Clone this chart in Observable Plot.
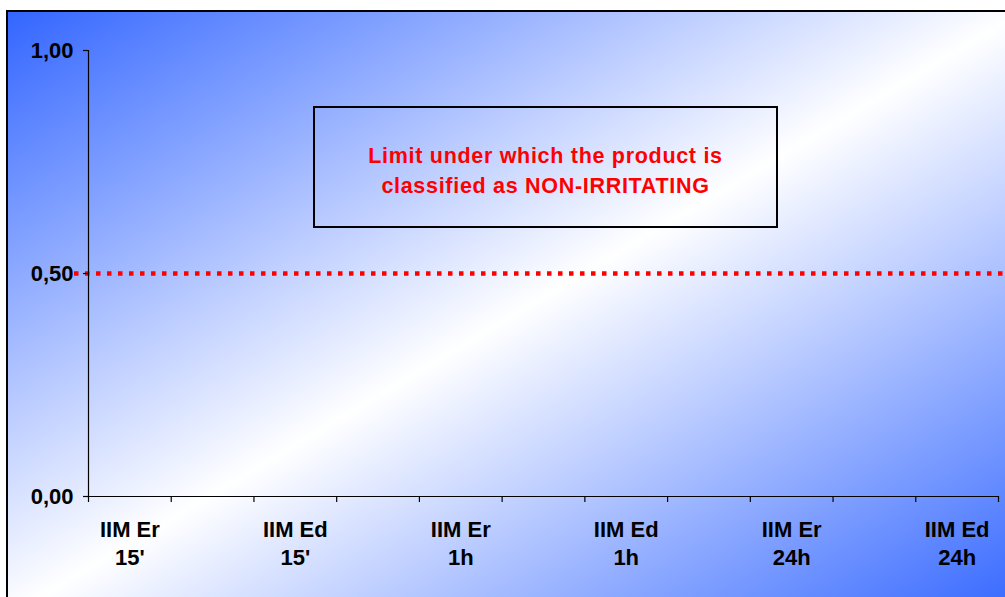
<!DOCTYPE html>
<html>
<head>
<meta charset="utf-8">
<script src="https://cdn.jsdelivr.net/npm/d3@7"></script>
<script src="https://cdn.jsdelivr.net/npm/@observablehq/plot@0.6"></script>
<style>
  html, body { margin: 0; padding: 0; width: 1005px; height: 597px; overflow: hidden; background: #fff; }
  #chart { position: relative; width: 1005px; height: 597px; font-family: "Liberation Sans", Arial, sans-serif; }
  #area {
    position: absolute; left: 6px; top: 10px; width: 1014px; height: 604px;
    border: 2px solid #000;
    background: linear-gradient(to bottom right, #3366ff 0%, #ffffff 50%, #3366ff 100%);
  }
  #plot { position: absolute; left: 0; top: 0; }
  #note {
    position: absolute; left: 313px; top: 106px; width: 461px; height: 110px;
    border: 2px solid #000; padding-top: 8px;
    display: flex; align-items: center; justify-content: center; text-align: center;
    color: #ff0000; font-weight: bold; font-size: 21.5px; line-height: 30px; letter-spacing: 0.7px;
  }
</style>
</head>
<body>
<div id="chart">
  <div id="area"></div>
  <div id="plot"></div>
  <div id="note">Limit under which the product is<br>classified as NON-IRRITATING</div>
</div>
<script>
// Test columns (blank spacer columns between them) and their irritation indices
const categories = ["IIM Er\n15'", "", "IIM Ed\n15'", "", "IIM Er\n1h", "", "IIM Ed\n1h", "", "IIM Er\n24h", "", "IIM Ed\n24h"];
const scores = [0, 0, 0, 0, 0, 0, 0, 0, 0, 0, 0];
// Threshold below which the product counts as non-irritating
const limit = 0.5;
const yTicks = [0, 0.5, 1];

const rows = categories.map((label, i) => ({i, label, score: scores[i]}));
const labelled = rows.filter(d => d.label !== "");
const fmt = v => d3.format(".2f")(v).replace(".", ",");

const chart = Plot.plot({
  width: 1005,
  height: 597,
  marginLeft: 88,
  marginRight: 7,
  marginTop: 50,
  marginBottom: 101,
  style: {background: "transparent", fontFamily: "'Liberation Sans', Arial, sans-serif", color: "#000"},
  x: {domain: [0, categories.length]},
  y: {domain: [0, 1]},
  marks: [
    Plot.rectY(rows, {x1: d => d.i, x2: d => d.i + 1, y: "score", fill: "#993366", insetLeft: 20, insetRight: 20}),
    Plot.ruleY([limit], {stroke: "#ff0000", strokeWidth: 4.5, strokeDasharray: "4.5,6.5", insetLeft: -14, insetRight: -5}),
    Plot.ruleX([0], {stroke: "#000", strokeWidth: 1.2}),
    Plot.ruleY([0], {stroke: "#000", strokeWidth: 1.2}),
    Plot.axisY({ticks: yTicks, tickFormat: fmt, tickSize: 5, tickPadding: 10, fontSize: 22, fontWeight: "bold", label: null, stroke: "#000", strokeWidth: 1.2}),
    // band boundaries carry the tick marks
    Plot.axisX({ticks: d3.range(categories.length + 1), tickFormat: () => "", tickSize: 6, label: null, stroke: "#000", strokeWidth: 1.2}),
    // labels sit in the middle of each labelled column
    Plot.axisX({ticks: labelled.map(d => d.i + 0.5), tickFormat: v => categories[Math.floor(v)], tickSize: 0, tickPadding: 20, fontSize: 22, fontWeight: "bold", lineHeight: 1.28, label: null})
  ]
});
document.getElementById("plot").append(chart);
</script>
</body>
</html>
